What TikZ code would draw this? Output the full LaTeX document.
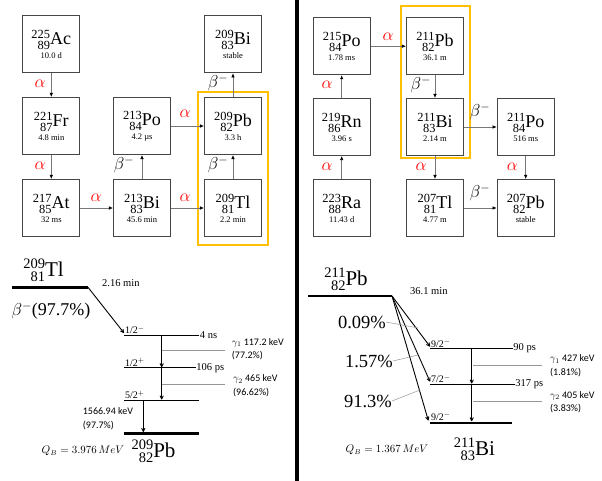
\documentclass[tikz,border=0pt]{standalone}
\usepackage{amsmath}
\usepackage{fontspec}
\setmainfont{Liberation Serif}
\newfontfamily\calib{Carlito}
\usetikzlibrary{arrows.meta,positioning}

\definecolor{boxgray}{RGB}{70,70,70}
\definecolor{arrgray}{RGB}{120,120,120}
\definecolor{leadgray}{RGB}{150,150,150}
\definecolor{goldbox}{RGB}{255,192,0}

% mass number over charge number, right aligned, then the symbol
\newcommand{\iso}[3]{%
  \setbox0=\hbox{\scalebox{0.69}{#1}}\setbox2=\hbox{\scalebox{0.69}{#2}}%
  \mbox{\raisebox{0.36em}{\box0}\llap{\raisebox{-0.25em}{\box2}}}#3}
\newcommand{\hl}[1]{{\fontsize{8.5}{9}\selectfont #1}}

\tikzset{
  nuc/.style={draw=boxgray, line width=1.1pt, minimum width=57pt, minimum height=57pt,
    inner sep=0pt, align=center, font=\fontsize{18}{13.5}\selectfont},
  dec/.style={draw=arrgray, line width=0.6pt, -{Latex[black,length=4pt,width=3.5pt]}},
  alab/.style={text=red, font=\fontsize{16}{16}\selectfont},
  blab/.style={font=\fontsize{17}{17}\selectfont},
  lvl/.style={line width=0.9pt},
  gnd/.style={line width=2.4pt},
  trans/.style={line width=0.9pt, -{To[length=4pt,width=4pt]}},
  lead/.style={draw=leadgray, line width=0.5pt},
  small/.style={font=\fontsize{10.5}{11}\selectfont, inner sep=1pt},
  spin/.style={font=\fontsize{10}{10}\selectfont, inner sep=1pt, above right},
  gam/.style={font=\calib\fontsize{10}{13.5}\selectfont, align=left, inner sep=0pt, right},
  big/.style={font=\fontsize{21}{21}\selectfont, inner sep=0pt, anchor=base},
  pct/.style={font=\fontsize{18.5}{18}\selectfont, inner sep=0pt, left}
}

\begin{document}
\begin{tikzpicture}[x=1pt,y=-1pt]
\useasboundingbox (0,0) rectangle (602,481);

% left chain
\node[nuc] (ac225) at (51.3,44.3) {\iso{225}{89}{Ac}\\ \hl{10.0 d}};
\node[nuc] (fr221) at (51.3,126) {\iso{221}{87}{Fr}\\ \hl{4.8 min}};
\node[nuc] (at217) at (51.3,208) {\iso{217}{85}{At}\\ \hl{32 ms}};
\node[nuc] (po213) at (142,126) {\iso{213}{84}{Po}\\ \hl{4.2 \textmu s}};
\node[nuc] (bi213) at (142,208) {\iso{213}{83}{Bi}\\ \hl{45.6 min}};
\node[nuc] (bi209) at (233,44.3) {\iso{209}{83}{Bi}\\ \hl{stable}};
\node[nuc] (pb209) at (233,126) {\iso{209}{82}{Pb}\\ \hl{3.3 h}};
\node[nuc] (tl209) at (233,208) {\iso{209}{81}{Tl}\\ \hl{2.2 min}};
\draw[goldbox, line width=2.2pt] (198.3,91.7) rectangle (268.3,245);

\draw[dec] (ac225) -- (fr221);
\draw[dec] (fr221) -- (at217);
\draw[dec] (at217) -- (bi213);
\draw[dec] (bi213) -- (po213);
\draw[dec] (po213) -- (pb209);
\draw[dec] (bi213) -- (tl209);
\draw[dec] (tl209) -- (pb209);
\draw[dec] (pb209) -- (bi209);
\node[alab] at (40,84) {$\alpha$};
\node[alab] at (40,166) {$\alpha$};
\node[alab] at (96,198) {$\alpha$};
\node[blab] at (124,165) {$\beta^-$};
\node[alab] at (185,114) {$\alpha$};
\node[alab] at (185,198) {$\alpha$};
\node[blab] at (218,165) {$\beta^-$};
\node[blab] at (218,83) {$\beta^-$};

% divider
\draw[line width=4pt] (297,0) -- (297,481);

% right chain
\node[nuc] (po215) at (341.7,46.2) {\iso{215}{84}{Po}\\ \hl{1.78 ms}};
\node[nuc] (rn219) at (341.7,127) {\iso{219}{86}{Rn}\\ \hl{3.96 s}};
\node[nuc] (ra223) at (341.7,208) {\iso{223}{88}{Ra}\\ \hl{11.43 d}};
\node[nuc] (pb211) at (435,46.2) {\iso{211}{82}{Pb}\\ \hl{36.1 m}};
\node[nuc] (bi211) at (435,127) {\iso{211}{83}{Bi}\\ \hl{2.14 m}};
\node[nuc] (tl207) at (435,208) {\iso{207}{81}{Tl}\\ \hl{4.77 m}};
\node[nuc] (po211) at (525.7,127) {\iso{211}{84}{Po}\\ \hl{516 ms}};
\node[nuc] (pb207) at (525.7,208) {\iso{207}{82}{Pb}\\ \hl{stable}};
\draw[goldbox, line width=2.2pt] (401,6) rectangle (470,157.7);

\draw[dec] (ra223) -- (rn219);
\draw[dec] (rn219) -- (po215);
\draw[dec] (po215) -- (pb211);
\draw[dec] (pb211) -- (bi211);
\draw[dec] (bi211) -- (po211);
\draw[dec] (bi211) -- (tl207);
\draw[dec] (po211) -- (pb207);
\draw[dec] (tl207) -- (pb207);
\node[alab] at (327,167) {$\alpha$};
\node[alab] at (327,85) {$\alpha$};
\node[alab] at (388,37) {$\alpha$};
\node[blab] at (420.7,85) {$\beta^-$};
\node[blab] at (480,112) {$\beta^-$};
\node[alab] at (421,167) {$\alpha$};
\node[alab] at (512.3,167) {$\alpha$};
\node[blab] at (480,193) {$\beta^-$};

% Tl-209 scheme
\coordinate (tlA) at (12,287.3);
\coordinate (tlB) at (88,287.3);
\node[big] (tlname) at (43.5,276) {\iso{209}{81}{Tl}};
\draw[gnd] (tlA) -- (tlB);
\node[font=\fontsize{18}{18}\selectfont, inner sep=0pt] (tlbeta) at (51,311) {$\beta^-$(97.7\%)};
\node[small, right] (tlhalf) at (101,283) {2.16 min};
\draw[trans] (tlB) -- (124,333);
\draw[lvl] (124,335) -- (199,335) node[small, right, inner sep=0.5pt] {4 ns};
\draw[lvl] (124,367.7) -- (196,367.7) node[small, right, inner sep=0pt] {106 ps};
\draw[lvl] (124,400) -- (199,400);
\draw[gnd] (124,433.3) -- (199,433.3);
\node[spin] at (124,335) {1/2$^-$};
\node[spin] at (124,367.7) {1/2$^+$};
\node[spin] at (124,400) {5/2$^+$};
\draw[trans] (161.7,335) -- (161.7,367.2);
\draw[trans] (161.7,367.7) -- (161.7,399.5);
\draw[trans] (143.3,400) -- (143.3,432);
\draw[lead] (161.7,350) -- (225,350);
\draw[lead] (161.7,384) -- (225,384);
\node[gam] at (231.7,349) {$\gamma_1$ 117.2 keV\\(77.2\%)};
\node[gam] at (233,385.5) {$\gamma_2$ 465 keV\\(96.62\%)};
\node[gam] at (82.7,418.5) {1566.94 keV\\(97.7\%)};
\node[small] (tlq) at (83,450.7) {$Q_B=3.976\,MeV$};
\node[big] (pbname) at (153.5,457) {\iso{209}{82}{Pb}};

% Pb-211 scheme
\coordinate (pbA) at (308,296);
\coordinate (pbB) at (392,296);
\node[big] (pbtop) at (346,285) {\iso{211}{82}{Pb}};
\draw[gnd] (pbA) -- (pbB);
\node[small, right] (pbhalf) at (409,291) {36.1 min};
\draw[trans] (pbB) -- (430,346.5);
\draw[trans] (pbB) -- (430,381.5);
\draw[trans] (pbB) -- (428.3,420.5);
\draw[lvl] (430,348.3) -- (513,348.3) node[small, right, inner sep=0pt] {90 ps};
\draw[lvl] (430,384) -- (515,384) node[small, right, inner sep=0pt] {317 ps};
\draw[gnd] (430,422.7) -- (512,422.7);
\node[spin] at (430,348.3) {9/2$^-$};
\node[spin] at (430,384) {7/2$^-$};
\node[spin] at (430,421.5) {9/2$^-$};
\draw[trans] (471.7,348.3) -- (471.7,383.5);
\draw[trans] (471.7,384) -- (471.7,421.2);
\draw[lead] (473,365) -- (542,365);
\draw[lead] (473,401.7) -- (542,401.7);
\node[gam] at (550,365.5) {$\gamma_1$ 427 keV\\(1.81\%)};
\node[gam] at (550,402) {$\gamma_2$ 405 keV\\(3.83\%)};
\node[pct] (p1) at (386,322) {0.09\%};
\node[pct] (p2) at (393,361) {1.57\%};
\node[pct] (p3) at (392,401) {91.3\%};
\draw[lead] (p1.east) -- (418.3,328);
\draw[lead] (p2.east) -- (418,355);
\draw[lead] (p3.east) -- (420,390);
\node[small] (pbq) at (387,450) {$Q_B=1.367\,MeV$};
\node[big] (biname) at (474.5,455) {\iso{211}{83}{Bi}};
\end{tikzpicture}
\end{document}
